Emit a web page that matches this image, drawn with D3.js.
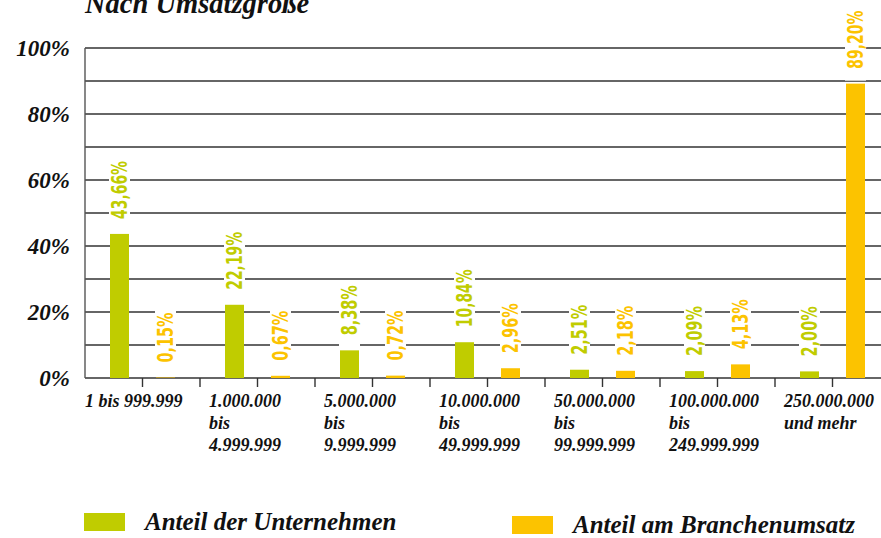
<!DOCTYPE html>
<meta charset="utf-8">
<style>
body,html{ margin:0; padding:0; background:#fff; }
svg{ display:block; }
.serif{ font-family:"Liberation Serif","DejaVu Serif",serif; font-style:italic; font-weight:bold; fill:#111; }
.val{ font-family:"Liberation Sans Narrow","DejaVu Sans Condensed","Roboto",sans-serif; font-weight:bold; }
</style>
<svg width="881" height="538"></svg>
<script src="https://cdn.jsdelivr.net/npm/d3@7"></script>
<script>

var categories = [
  ["1 bis 999.999"],
  ["1.000.000", "bis", "4.999.999"],
  ["5.000.000", "bis", "9.999.999"],
  ["10.000.000", "bis", "49.999.999"],
  ["50.000.000", "bis", "99.999.999"],
  ["100.000.000", "bis", "249.999.999"],
  ["250.000.000", "und mehr"]
]
var seriesNames = ["Anteil der Unternehmen", "Anteil am Branchenumsatz"]
var seriesColors = ["#c0cc00", "#fcc300"]
var unternehmen = [43.66, 22.19, 8.38, 10.84, 2.51, 2.09, 2.00]
var umsatz = [0.15, 0.67, 0.72, 2.96, 2.18, 4.13, 89.20]
var yTicks = [0, 20, 40, 60, 80, 100]

var svg = d3.select("svg"),
    width = +svg.attr("width"),
    height = +svg.attr("height")

var catKeys = categories.map(function(d, i) { return i })
var x = d3.scaleBand().domain(catKeys).range([85, 890])
var xs = d3.scalePoint().domain([0, 1]).range([0, x.bandwidth()]).padding(0.75)
var y = d3.scaleLinear().domain([0, 100]).range([378, 48])
var barW = 19

// title, cut at the top like the original
svg.append("text").attr("class", "serif")
    .attr("x", 85).attr("y", 13)
    .style("font-size", "28.5px")
    .text("Nach Umsatzgröße")

// grid
svg.append("g").selectAll("line")
    .data(d3.range(0, 101, 10))
    .enter().append("line")
    .attr("x1", 85).attr("x2", width)
    .attr("y1", function(d) { return y(d) }).attr("y2", function(d) { return y(d) })
    .attr("stroke", "#333").attr("stroke-width", 1.4)

svg.append("line")
    .attr("x1", 85).attr("x2", 85).attr("y1", y(100)).attr("y2", y(0))
    .attr("stroke", "#555").attr("stroke-width", 1.4)

// ticks under the baseline
var tickPos = []
catKeys.forEach(function(k) {
  tickPos.push(x(k) + x.bandwidth() / 2)
  tickPos.push(x(k) + x.bandwidth())
})
svg.append("g").selectAll("line")
    .data(tickPos.filter(function(d) { return d < width }))
    .enter().append("line")
    .attr("x1", function(d) { return d }).attr("x2", function(d) { return d })
    .attr("y1", y(0)).attr("y2", y(0) + 9)
    .attr("stroke", "#333").attr("stroke-width", 1.4)

// y labels
svg.append("g").selectAll("text")
    .data(yTicks)
    .enter().append("text").attr("class", "serif")
    .attr("x", 70).attr("y", function(d) { return y(d) })
    .attr("dy", "0.36em")
    .attr("text-anchor", "end")
    .style("font-size", "23px")
    .text(function(d) { return d + "%" })

// bars
var bars = []
catKeys.forEach(function(k) {
  bars.push({ cat: k, s: 0, v: unternehmen[k] })
  bars.push({ cat: k, s: 1, v: umsatz[k] })
})
function cx(d) { return x(d.cat) + xs(d.s) }

svg.append("g").selectAll("rect")
    .data(bars)
    .enter().append("rect")
    .attr("x", function(d) { return cx(d) - barW / 2 })
    .attr("width", barW)
    .attr("y", function(d) { return y(d.v) })
    .attr("height", function(d) { return y(0) - y(d.v) })
    .attr("fill", function(d) { return seriesColors[d.s] })

// value labels (white box knocks out the grid)
var fmt = function(v) { return v.toFixed(2).replace(".", ",") + "%" }
var lab = svg.append("g").selectAll("g")
    .data(bars)
    .enter().append("g")
lab.each(function(d) {
  var g = d3.select(this)
  var bg = g.append("rect").attr("fill", "#fff")
  var len = fmt(d.v).length == 6 ? 58 : 50
  g.append("text").attr("class", "val")
      .attr("transform", "translate(" + (cx(d) + 7.5) + "," + (y(d.v) - 15) + ") rotate(-90)")
      .style("font-size", "21px")
      .attr("textLength", len)
      .attr("lengthAdjust", "spacingAndGlyphs")
      .attr("fill", seriesColors[d.s])
      .text(fmt(d.v))
  bg.attr("x", cx(d) - barW / 2 - 1).attr("width", barW + 2)
    .attr("y", y(d.v) - 15 - len - 3).attr("height", len + 15)
})

// category labels
var cl = svg.append("g").selectAll("text")
    .data(categories)
    .enter().append("text").attr("class", "serif")
    .style("font-size", "18px")
    .attr("x", function(d, i) { return i == 0 ? x(i) : x(i) + 9 })
    .attr("y", 407)
cl.selectAll("tspan")
    .data(function(d) { return d })
    .enter().append("tspan")
    .attr("x", function() { return d3.select(this.parentNode).attr("x") })
    .attr("dy", function(d, i) { return i == 0 ? 0 : 22 })
    .text(function(d) { return d })

// legend
var legX = [84, 512], legY = [513, 516]
seriesNames.forEach(function(name, i) {
  svg.append("rect").attr("x", legX[i]).attr("y", legY[i])
      .attr("width", 41).attr("height", 18)
      .attr("fill", seriesColors[i])
  svg.append("text").attr("class", "serif")
      .attr("x", legX[i] + 61).attr("y", legY[i] + 17)
      .style("font-size", "25px")
      .text(name)
})

</script>
